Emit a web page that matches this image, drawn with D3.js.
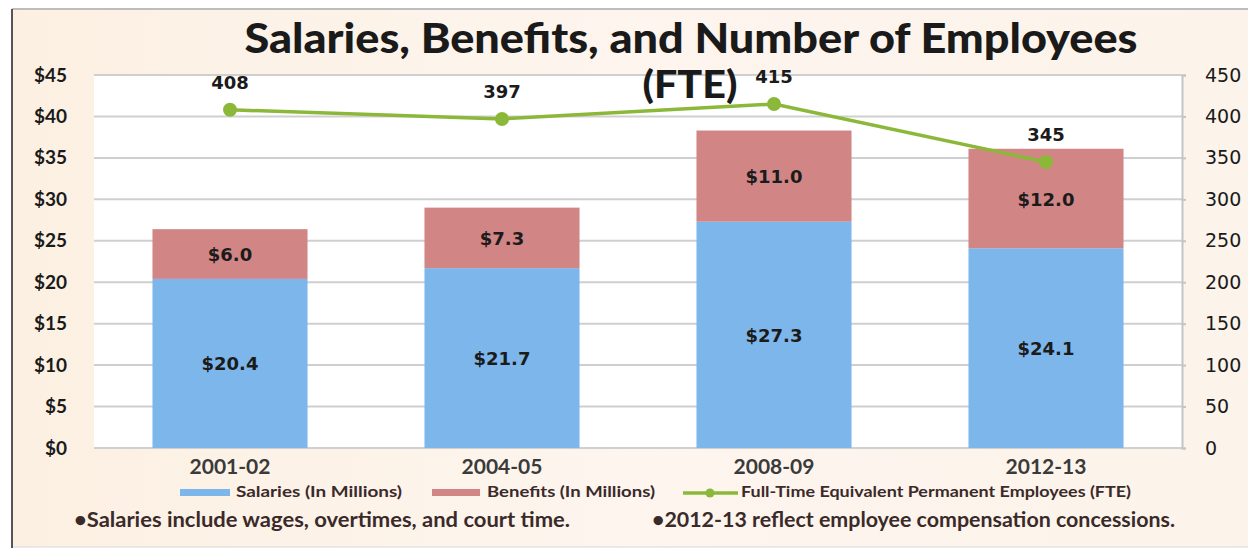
<!DOCTYPE html>
<html>
<head>
<meta charset="utf-8">
<script src="https://cdn.jsdelivr.net/npm/d3@7"></script>
<style>
  body { margin: 0; background: #fff; }
  svg { display: block; font-family: Lato, "Open Sans", sans-serif; }
</style>
</head>
<body>
<div id="chart"></div>
<script>
const years = ["2001-02", "2004-05", "2008-09", "2012-13"];
const salaries = [20.4, 21.7, 27.3, 24.1];
const benefits = [6.0, 7.3, 11.0, 12.0];
const fte = [408, 397, 415, 345];
const leftTicks = [0, 5, 10, 15, 20, 25, 30, 35, 40, 45];
const rightTicks = [0, 50, 100, 150, 200, 250, 300, 350, 400, 450];

const width = 1248, height = 558;
const margins = { top: 75, right: 66, bottom: 110, left: 94 };

const svg = d3.select("#chart").append("svg")
    .attr("width", width)
    .attr("height", height);

// peach background gradient + frame
const defs = svg.append("defs");
const grad = defs.append("linearGradient").attr("id", "bg").attr("x1", 0).attr("x2", 1);
grad.append("stop").attr("offset", "0%").attr("stop-color", "#fcf0e2");
grad.append("stop").attr("offset", "50%").attr("stop-color", "#fdf5ee");
grad.append("stop").attr("offset", "100%").attr("stop-color", "#fcf3ea");

svg.append("rect").attr("x", 0).attr("y", 0).attr("width", width).attr("height", height).attr("fill", "#fff");
svg.append("rect").attr("x", 12).attr("y", 9).attr("width", width - 12).attr("height", 538).attr("fill", "url(#bg)");
svg.append("line").attr("x1", 12).attr("x2", width).attr("y1", 9).attr("y2", 9).attr("stroke", "#bdbdbd").attr("stroke-width", 2);
svg.append("line").attr("x1", 12).attr("x2", width).attr("y1", 547).attr("y2", 547).attr("stroke", "#d8d8d8").attr("stroke-width", 1);
svg.append("line").attr("x1", 12).attr("x2", 12).attr("y1", 9).attr("y2", 548).attr("stroke", "#555").attr("stroke-width", 2);

const x = d3.scaleBand()
    .domain(years)
    .range([margins.left, width - margins.right])
    .paddingInner(0.43)
    .paddingOuter(0.215);
const y = d3.scaleLinear()
    .domain([0, 45])
    .range([height - margins.bottom, margins.top]);
const y2 = d3.scaleLinear()
    .domain([0, 450])
    .range([height - margins.bottom, margins.top]);

// plot area
svg.append("rect")
    .attr("x", margins.left)
    .attr("y", margins.top)
    .attr("width", width - margins.right - margins.left)
    .attr("height", y(0) - y(45))
    .attr("fill", "#fff");

// gridlines
svg.append("g")
    .selectAll("line")
    .data(leftTicks)
    .join("line")
    .attr("x1", margins.left)
    .attr("x2", width - margins.right)
    .attr("y1", d => y(d))
    .attr("y2", d => y(d))
    .attr("stroke", "#cfcfcf")
    .attr("stroke-width", 2);

// left axis
const gy = svg.append("g")
    .attr("transform", `translate(${margins.left - 24},0)`)
    .call(d3.axisLeft(y).tickValues(leftTicks).tickFormat(d => `$${d}`).tickSize(0))
    .call(g => g.select(".domain").remove());
gy.selectAll("text")
    .attr("font-size", 19)
    .attr("font-weight", 700)
    .attr("fill", "#1a1a1a")
    .attr("font-family", "Lato, sans-serif");

// right axis
const gy2 = svg.append("g")
    .attr("transform", `translate(${width - margins.right},0)`)
    .call(d3.axisRight(y2).tickValues(rightTicks).tickSize(4).tickPadding(19));
gy2.select(".domain").attr("stroke", "#c4c4c4").attr("stroke-width", 2);
gy2.selectAll(".tick line").attr("stroke", "#c4c4c4").attr("stroke-width", 2);
gy2.selectAll("text")
    .attr("font-size", 19)
    .attr("font-weight", 400)
    .attr("fill", "#1a1a1a")
    .attr("font-family", "'DejaVu Sans', sans-serif");

// x axis labels
const gx = svg.append("g")
    .attr("transform", `translate(0,${y(0) + 8})`)
    .call(d3.axisBottom(x).tickSize(0))
    .call(g => g.select(".domain").remove());
gx.selectAll("text")
    .attr("font-size", 21)
    .attr("font-weight", 700)
    .attr("fill", "#3a3a3a")
    .attr("font-family", "Lato, sans-serif");

// stacked bars
const salColor = "#7db6ea", benColor = "#d18585";
const rows = years.map((yr, i) => ({ year: yr, sal: salaries[i], ben: benefits[i], fte: fte[i] }));

svg.append("g").selectAll("rect")
    .data(rows)
    .join("rect")
    .attr("x", d => x(d.year))
    .attr("y", d => y(d.sal))
    .attr("width", x.bandwidth())
    .attr("height", d => y(0) - y(d.sal))
    .attr("fill", salColor);

svg.append("g").selectAll("rect")
    .data(rows)
    .join("rect")
    .attr("x", d => x(d.year))
    .attr("y", d => y(d.sal + d.ben))
    .attr("width", x.bandwidth())
    .attr("height", d => y(d.sal) - y(d.sal + d.ben))
    .attr("fill", benColor);

const labelStyle = sel => sel
    .attr("text-anchor", "middle")
    .attr("font-size", 18)
    .attr("font-weight", 700)
    .attr("fill", "#1b1b1b")
    .attr("font-family", "'DejaVu Sans', sans-serif");

svg.append("g").selectAll("text")
    .data(rows)
    .join("text")
    .attr("x", d => x(d.year) + x.bandwidth() / 2)
    .attr("y", d => y(d.sal / 2) + 7)
    .text(d => `$${d.sal.toFixed(1)}`)
    .call(labelStyle);

svg.append("g").selectAll("text")
    .data(rows)
    .join("text")
    .attr("x", d => x(d.year) + x.bandwidth() / 2)
    .attr("y", d => y(d.sal + d.ben / 2) + 7)
    .text(d => `$${d.ben.toFixed(1)}`)
    .call(labelStyle);

// title
svg.append("text")
    .attr("x", 691)
    .attr("y", 53)
    .attr("text-anchor", "middle")
    .attr("font-size", 41)
    .attr("font-weight", 900)
    .attr("fill", "#1a1a1a")
    .attr("textLength", 893)
    .attr("lengthAdjust", "spacingAndGlyphs")
    .text("Salaries, Benefits, and Number of Employees");
svg.append("text")
    .attr("x", 690)
    .attr("y", 98)
    .attr("text-anchor", "middle")
    .attr("font-size", 38)
    .attr("font-weight", 900)
    .attr("fill", "#1a1a1a")
    .attr("textLength", 95)
    .attr("lengthAdjust", "spacingAndGlyphs")
    .text("(FTE)");

// FTE line
const lineColor = "#8cb83a";
const cx = d => x(d.year) + x.bandwidth() / 2;
const line = d3.line()
    .x(d => cx(d))
    .y(d => y2(d.fte));

svg.append("path")
    .attr("d", line(rows))
    .attr("fill", "none")
    .attr("stroke", lineColor)
    .attr("stroke-width", 3.5);

svg.append("g").selectAll("circle")
    .data(rows)
    .join("circle")
    .attr("cx", cx)
    .attr("cy", d => y2(d.fte))
    .attr("r", 7)
    .attr("fill", lineColor);

svg.append("g").selectAll("text")
    .data(rows)
    .join("text")
    .attr("x", d => cx(d))
    .attr("y", d => y2(d.fte) - 21)
    .text(d => d.fte)
    .call(labelStyle);

// legend
const legend = svg.append("g").attr("font-size", 15).attr("font-weight", 700).attr("fill", "#3a2a2a");
legend.append("rect").attr("x", 180).attr("y", 489).attr("width", 50).attr("height", 7).attr("fill", salColor);
legend.append("text").attr("x", 236).attr("y", 497).attr("textLength", 166).attr("lengthAdjust", "spacingAndGlyphs").text("Salaries (In Millions)");
legend.append("rect").attr("x", 432).attr("y", 489).attr("width", 48).attr("height", 7).attr("fill", benColor);
legend.append("text").attr("x", 487).attr("y", 497).attr("textLength", 168).attr("lengthAdjust", "spacingAndGlyphs").text("Benefits (In Millions)");
legend.append("line").attr("x1", 683).attr("x2", 738).attr("y1", 493).attr("y2", 493).attr("stroke", lineColor).attr("stroke-width", 3.5);
legend.append("circle").attr("cx", 710).attr("cy", 493).attr("r", 4.5).attr("fill", lineColor);
legend.append("text").attr("x", 741).attr("y", 497).attr("textLength", 390).attr("lengthAdjust", "spacingAndGlyphs").text("Full-Time Equivalent Permanent Employees (FTE)");

// footnotes
const notes = svg.append("g").attr("font-size", 20).attr("font-weight", 700).attr("fill", "#3a2a2a");
notes.append("text").attr("x", 74).attr("y", 527).attr("textLength", 496).attr("lengthAdjust", "spacingAndGlyphs").text("•Salaries include wages, overtimes, and court time.");
notes.append("text").attr("x", 652).attr("y", 527).attr("textLength", 523).attr("lengthAdjust", "spacingAndGlyphs").text("•2012-13 reflect employee compensation concessions.");
</script>
</body>
</html>
